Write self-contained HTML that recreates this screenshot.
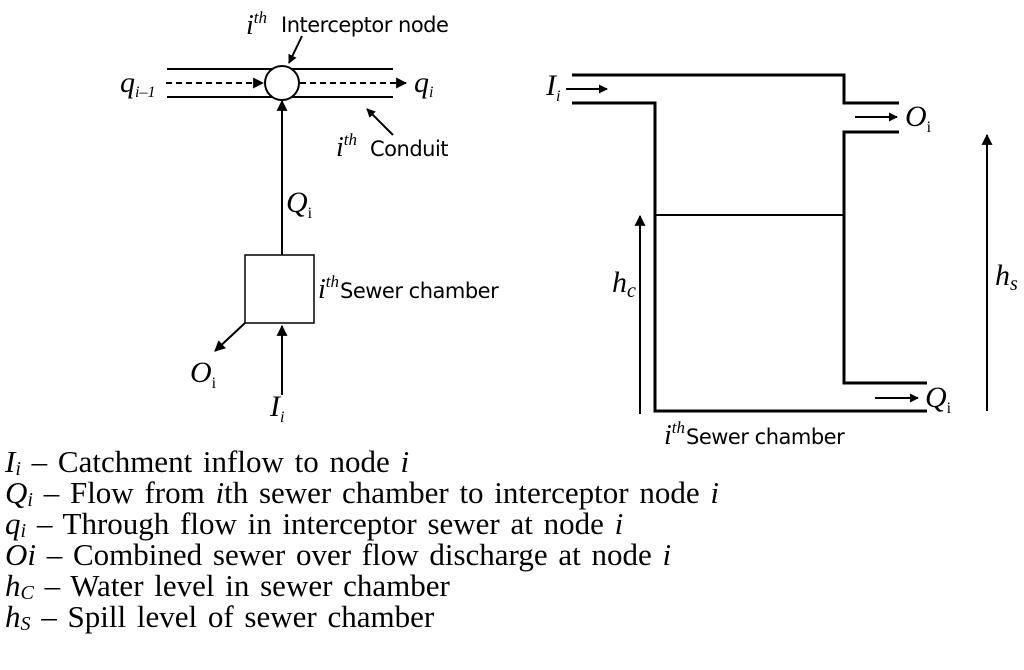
<!DOCTYPE html>
<html><head><meta charset="utf-8"><style>
html,body{margin:0;padding:0;background:#fff;}
svg{display:block}
</style></head><body>
<svg width="1024" height="670" viewBox="0 0 1024 670" xmlns="http://www.w3.org/2000/svg">
<defs>
<marker id="a" viewBox="0 0 10 10" refX="9" refY="5" markerWidth="9" markerHeight="9" markerUnits="userSpaceOnUse" orient="auto"><path d="M0,0L10,5L0,10z" fill="#000"/></marker>
<marker id="b" viewBox="0 0 10 10" refX="9" refY="5" markerWidth="11" markerHeight="11" markerUnits="userSpaceOnUse" orient="auto"><path d="M0,0L10,5L0,10z" fill="#000"/></marker>
</defs>
<g stroke="#000" fill="none" stroke-width="2">
<line x1="167" y1="69" x2="393" y2="69"/>
<line x1="167" y1="97" x2="393" y2="97"/>
<circle cx="282" cy="83" r="17" fill="#fff"/>
<line x1="166" y1="83" x2="263" y2="83" stroke-dasharray="6,4" marker-end="url(#b)"/>
<line x1="300" y1="83" x2="406" y2="83" stroke-dasharray="6,4" marker-end="url(#b)"/>
<line x1="282" y1="255" x2="282" y2="101" marker-end="url(#b)"/>
<rect x="245" y="255" width="69" height="68" stroke-width="1.5"/>
<line x1="245" y1="323" x2="215" y2="351" marker-end="url(#b)"/>
<line x1="282" y1="395" x2="282" y2="326" marker-end="url(#b)"/>
<line x1="302" y1="36" x2="289" y2="63" marker-end="url(#a)"/>
<line x1="393" y1="135" x2="367" y2="109" marker-end="url(#a)"/>
<polyline points="572,75 844,75 844,103 899,103" stroke-width="3"/>
<polyline points="572,103 655,103 655,411 927,411" stroke-width="3"/>
<polyline points="899,132 844,132 844,383 927,383" stroke-width="3"/>
<line x1="655" y1="215" x2="844" y2="215"/>
<line x1="566" y1="89" x2="607" y2="89" marker-end="url(#a)"/>
<line x1="855" y1="117" x2="897" y2="117" marker-end="url(#a)"/>
<line x1="875" y1="398" x2="918" y2="398" marker-end="url(#a)"/>
<line x1="640" y1="414" x2="640" y2="216" marker-end="url(#b)"/>
<line x1="987" y1="411" x2="987" y2="135" marker-end="url(#b)"/>
</g>
<g font-family="'Liberation Serif', serif" font-style="italic" fill="#000">
<text x="246" y="34" font-size="28">i<tspan font-size="17" dy="-11">th</tspan></text>
<text x="281" y="32" font-size="21" font-family="'DejaVu Sans', sans-serif" font-style="normal" letter-spacing="-0.5">Interceptor node</text>
<text x="336" y="156" font-size="28">i<tspan font-size="17" dy="-11">th</tspan></text>
<text x="370" y="156" font-size="21" font-family="'DejaVu Sans', sans-serif" font-style="normal" letter-spacing="-0.5">Conduit</text>
<text x="318" y="298" font-size="28">i<tspan font-size="17" dy="-11">th</tspan></text>
<text x="340" y="298" font-size="21" font-family="'DejaVu Sans', sans-serif" font-style="normal" letter-spacing="-0.5">Sewer chamber</text>
<text x="120" y="92" font-size="30">q<tspan font-size="16" dy="5">i–1</tspan></text>
<text x="414" y="92" font-size="30">q<tspan font-size="16" dy="5">i</tspan></text>
<text x="286" y="212" font-size="30">Q<tspan font-size="16" dy="6" font-style="normal">i</tspan></text>
<text x="190" y="382" font-size="30">O<tspan font-size="16" dy="6" font-style="normal">i</tspan></text>
<text x="270" y="416" font-size="30">I<tspan font-size="16" dy="6">i</tspan></text>
<text x="546" y="95" font-size="30">I<tspan font-size="16" dy="6">i</tspan></text>
<text x="905" y="126" font-size="30">O<tspan font-size="16" dy="6" font-style="normal">i</tspan></text>
<text x="925" y="407" font-size="30">Q<tspan font-size="16" dy="6" font-style="normal">i</tspan></text>
<text x="612" y="292" font-size="30">h<tspan font-size="20" dy="5">c</tspan></text>
<text x="995" y="285" font-size="30">h<tspan font-size="20" dy="5">s</tspan></text>
<text x="664" y="444" font-size="28">i<tspan font-size="17" dy="-11">th</tspan></text>
<text x="686" y="444" font-size="21" font-family="'DejaVu Sans', sans-serif" font-style="normal" letter-spacing="-0.5">Sewer chamber</text>
</g>
<g font-family="'Liberation Serif', serif" font-size="31" fill="#000" word-spacing="3">
<text x="5" y="472"><tspan font-style="italic">I<tspan font-size="20" dy="3">i</tspan></tspan><tspan dy="-3"> – Catchment inflow to node </tspan><tspan font-style="italic">i</tspan></text>
<text x="5" y="503"><tspan font-style="italic">Q<tspan font-size="20" dy="3">i</tspan></tspan><tspan dy="-3"> – Flow from </tspan><tspan font-style="italic">i</tspan>th sewer chamber to interceptor node <tspan font-style="italic">i</tspan></text>
<text x="5" y="534"><tspan font-style="italic">q<tspan font-size="20" dy="3">i</tspan></tspan><tspan dy="-3"> – Through flow in interceptor sewer at node </tspan><tspan font-style="italic">i</tspan></text>
<text x="5" y="565"><tspan font-style="italic">Oi</tspan> – Combined sewer over flow discharge at node <tspan font-style="italic">i</tspan></text>
<text x="5" y="596"><tspan font-style="italic">h<tspan font-size="20" dy="3">C</tspan></tspan><tspan dy="-3"> – Water level in sewer chamber</tspan></text>
<text x="5" y="627"><tspan font-style="italic">h<tspan font-size="20" dy="3">S</tspan></tspan><tspan dy="-3"> – Spill level of sewer chamber</tspan></text>
</g>
</svg>
</body></html>
